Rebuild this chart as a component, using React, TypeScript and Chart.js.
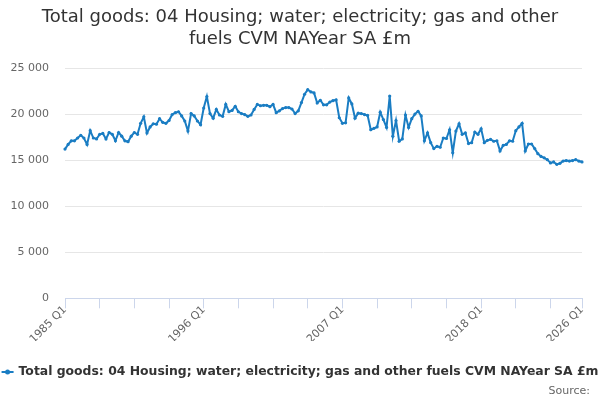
import { useEffect, useRef } from "react";
import { Chart, registerables } from "chart.js";

Chart.register(...registerables);

const titleLines = [
  "Total goods: 04 Housing; water; electricity; gas and other",
  "fuels CVM NAYear SA £m",
];
const seriesName =
  "Total goods: 04 Housing; water; electricity; gas and other fuels CVM NAYear SA £m";
const sourceText = "Source:";

// quarters 1985 Q1 .. 2026 Q1
const quarters: string[] = [];
for (let y = 1985; y <= 2026; y++) {
  for (let q = 1; q <= 4; q++) quarters.push(`${y} Q${q}`);
}
const categories = quarters.slice(0, 165);

const shownLabels = ["1985 Q1", "1996 Q1", "2007 Q1", "2018 Q1", "2026 Q1"];
const tickEvery = 11;

// £m
const values = [
  16200, 16700, 17100, 17100, 17400, 17700, 17400, 16700, 18200, 17400,
  17300, 17800, 17900, 17300, 18000, 17800, 17100, 18000, 17600, 17100,
  17000, 17600, 18000, 17800, 19000, 19700, 17950, 18600, 18950, 18900,
  19500, 19100, 19000, 19300, 19950, 20150, 20250, 19800, 19250, 18150,
  20050, 19800, 19250, 18850, 20650, 21900, 20050, 19550, 20500, 19900,
  19750, 21050, 20250, 20400, 20850, 20250, 20050, 19950, 19750, 19900,
  20500, 21050, 20900, 20950, 20950, 20800, 21050, 20150, 20350, 20600,
  20700, 20700, 20550, 20050, 20350, 21250, 22150, 22650, 22400, 22300,
  21200, 21500, 21000, 21000, 21300, 21450, 21550, 19600, 19000, 19050,
  21750, 21100, 19550, 20100, 20050, 19950, 19850, 18300, 18450, 18600,
  20200, 19400, 18550, 21950, 17600, 19300, 17050, 17300, 19900, 18550,
  19500, 20000, 20300, 19800, 17100, 17950, 16900, 16250, 16500, 16400,
  17400, 17350, 18300, 15800, 18150, 18950, 17800, 17950, 16800, 16900,
  18050, 17800, 18400, 16900, 17150, 17250, 17050, 17100, 16000, 16600,
  16700, 17100, 17050, 18200, 18600, 19000, 16000, 16750, 16750, 16250,
  15700, 15400, 15250, 15050, 14700, 14800, 14550, 14650, 14900, 14950,
  14900, 14950, 15050, 14900, 14800,
];

const yMin = 0;
const yMax = 25000;
const yStep = 5000;

const BLUE = "#1a7dc3";
const FONT = "'DejaVu Sans', sans-serif";

const fmt = (v: number) => String(v).replace(/\B(?=(\d{3})+(?!\d))/g, " ");

// legend row and source line under the axis, Highcharts style
const legendAndSource = {
  id: "legendAndSource",
  afterDraw(chart: any) {
    const { ctx, width, height } = chart;
    ctx.save();
    ctx.font = `bold 12.4px ${FONT}`;
    const textW = ctx.measureText(seriesName).width;
    const symW = 12;
    const gap = 5;
    const x0 = Math.max(0, (width - (symW + gap + textW)) / 2);
    const y = height - 28;
    ctx.strokeStyle = BLUE;
    ctx.lineWidth = 2;
    ctx.beginPath();
    ctx.moveTo(x0, y);
    ctx.lineTo(x0 + symW, y);
    ctx.stroke();
    ctx.fillStyle = BLUE;
    ctx.beginPath();
    ctx.arc(x0 + symW / 2, y, 2.5, 0, Math.PI * 2);
    ctx.fill();
    ctx.fillStyle = "#333333";
    ctx.textBaseline = "middle";
    ctx.textAlign = "left";
    ctx.fillText(seriesName, x0 + symW + gap, y);

    ctx.font = `11px ${FONT}`;
    ctx.fillStyle = "#666666";
    ctx.textAlign = "right";
    ctx.fillText(sourceText, width - 10, height - 9);
    ctx.restore();
  },
};

function App() {
  const canvasRef = useRef<HTMLCanvasElement | null>(null);

  useEffect(() => {
    const ctx = canvasRef.current?.getContext("2d");
    if (!ctx) return;

    const chart = new Chart(ctx, {
      type: "line",
      data: {
        labels: categories,
        datasets: [
          {
            label: seriesName,
            data: values,
            borderColor: BLUE,
            backgroundColor: BLUE,
            borderWidth: 2,
            pointRadius: 1.6,
            pointBorderWidth: 0,
            pointBackgroundColor: BLUE,
            tension: 0,
          },
        ],
      },
      plugins: [legendAndSource],
      options: {
        animation: false,
        responsive: true,
        maintainAspectRatio: false,
        layout: { padding: { left: 0, right: 0, top: 0, bottom: 59 } },
        plugins: {
          title: {
            display: true,
            text: titleLines,
            color: "#333333",
            font: { family: FONT, size: 18, weight: "normal", lineHeight: 1.25 },
            padding: { top: 6, bottom: 17 },
          },
          legend: { display: false },
          tooltip: { enabled: false },
        },
        scales: {
          x: {
            type: "category",
            afterBuildTicks: (axis: any) => {
              axis.ticks = axis.ticks.filter(
                (t: any) => t.value % tickEvery === 0 || t.value === categories.length - 1
              );
            },
            afterFit: (axis: any) => {
              axis.paddingLeft = 60;
              axis.paddingRight = 18;
            },
            ticks: {
              autoSkip: false,
              maxRotation: 45,
              minRotation: 45,
              color: "#666666",
              font: { family: FONT, size: 11 },
              padding: -5,
              callback: (value: any) => {
                const lab = categories[Number(value)];
                return shownLabels.includes(lab) ? lab : "";
              },
            },
            grid: {
              drawOnChartArea: false,
              drawTicks: true,
              tickLength: 10,
              color: "#ccd6eb",
            },
            border: { color: "#ccd6eb" },
          },
          y: {
            min: yMin,
            max: yMax,
            afterFit: (axis: any) => {
              axis.width = 65;
            },
            ticks: {
              stepSize: yStep,
              color: "#666666",
              font: { family: FONT, size: 11 },
              padding: 16,
              callback: (v: any) => fmt(Number(v)),
            },
            grid: { color: "#e6e6e6", drawTicks: false },
            border: { display: false },
          },
        },
      },
    });
    return () => chart.destroy();
  }, []);

  return (
    <div style={{ position: "fixed", left: 0, top: 0, width: 600, height: 400, background: "#fff" }}>
      <canvas ref={canvasRef}></canvas>
    </div>
  );
}

export default App;
